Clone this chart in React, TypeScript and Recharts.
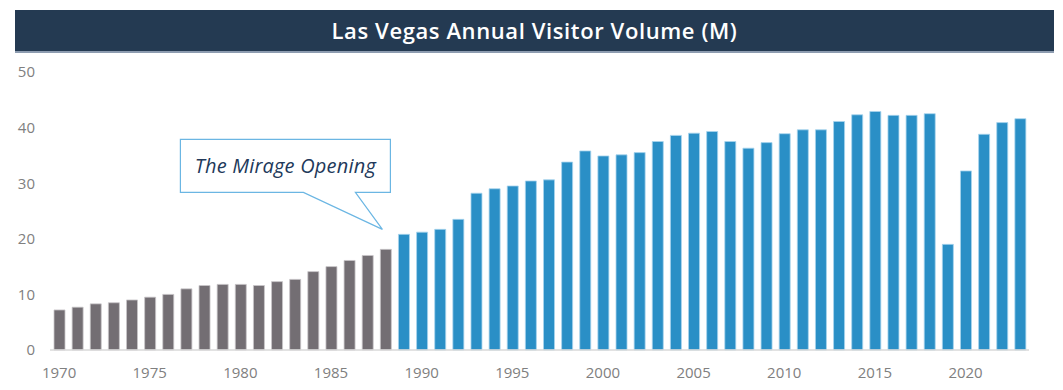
import { BarChart, Bar, XAxis, YAxis, Cell, ReferenceDot } from 'recharts';

const years = [
  1970, 1971, 1972, 1973, 1974, 1975, 1976, 1977, 1978, 1979,
  1980, 1981, 1982, 1983, 1984, 1985, 1986, 1987, 1988, 1989,
  1990, 1991, 1992, 1993, 1994, 1995, 1996, 1997, 1998, 1999,
  2000, 2001, 2002, 2003, 2004, 2005, 2006, 2007, 2008, 2009,
  2010, 2011, 2012, 2013, 2014, 2015, 2016, 2017, 2018, 2019,
  2020, 2021, 2022, 2023,
];

// visitors in millions
const visitors = [
  7.2, 7.7, 8.3, 8.5, 9.0, 9.5, 10.0, 11.0, 11.6, 11.8,
  11.8, 11.6, 12.3, 12.7, 14.1, 15.0, 16.1, 17.0, 18.1, 20.8,
  21.2, 21.7, 23.5, 28.2, 29.0, 29.5, 30.4, 30.6, 33.8, 35.8,
  34.9, 35.1, 35.5, 37.5, 38.6, 39.0, 39.3, 37.5, 36.3, 37.3,
  38.9, 39.6, 39.6, 41.1, 42.3, 42.9, 42.2, 42.2, 42.5, 19.0,
  32.2, 38.8, 40.9, 41.6,
];

const yTicks = [0, 10, 20, 30, 40, 50];
const mirageYear = 1988;

const data = years.map((year, i) => ({ year, visitors: visitors[i] }));

const GREY = '#736e73';
const BLUE = '#2a8fc6';
const NAVY = '#243a52';
const TICK = { fill: '#808080', fontSize: 15, fontFamily: '"Open Sans", sans-serif' };

function Callout({ cx, cy }: { cx?: number; cy?: number }) {
  if (cx == null || cy == null) return null;
  const left = cx - 205;
  const right = cx + 5;
  const top = cy - 110;
  const bottom = cy - 57;
  const tipX = cx - 3;
  const tipY = cy - 20;
  const d = `M${left},${top} H${right} V${bottom} H${cx - 30} L${tipX},${tipY} L${cx - 82},${bottom} H${left} Z`;
  return (
    <g>
      <path d={d} fill="#fff" stroke="#6bb6e3" strokeWidth={1.2} />
      <text
        x={cx - 100}
        y={cy - 84}
        textAnchor="middle"
        dominantBaseline="central"
        fill="#22395a"
        fontSize={20}
        letterSpacing={0.2}
        fontStyle="italic"
        fontFamily='"Open Sans", sans-serif'
      >
        The Mirage Opening
      </text>
    </g>
  );
}

export default function App() {
  return (
    <div style={{ position: 'absolute', left: 0, top: 0, width: 1063, height: 390, background: '#fff' }}>
      <div
        style={{
          position: 'absolute',
          left: 15,
          top: 10,
          width: 1039,
          height: 41,
          background: NAVY,
          borderBottom: '2px solid #8d9cb0',
          color: '#fff',
          fontFamily: '"Open Sans", sans-serif',
          fontWeight: 600,
          fontSize: 22,
          letterSpacing: 0.6,
          lineHeight: '41px',
          textAlign: 'center',
        }}
      >
        Las Vegas Annual Visitor Volume (M)
      </div>
      <BarChart
        width={1063}
        height={390}
        data={data}
        margin={{ top: 72, right: 34, bottom: 10, left: 0 }}
        style={{ position: 'absolute', left: 0, top: 0 }}
      >
        <XAxis
          dataKey="year"
          height={30}
          interval={4}
          tickLine={false}
          tickSize={6}
          tickMargin={11}
          axisLine={{ stroke: '#d9d9d9', strokeWidth: 1.5 }}
          tick={TICK}
        />
        <YAxis
          width={50}
          domain={[0, 50]}
          ticks={yTicks}
          axisLine={false}
          tickLine={false}
          tickSize={6}
          tickMargin={9}
          tick={TICK}
        />
        <Bar dataKey="visitors" barSize={11} isAnimationActive={false}>
          {data.map((d) => (
            <Cell
              key={d.year}
              fill={d.year <= mirageYear ? GREY : BLUE}
              stroke={d.year <= mirageYear ? '#c9c6c9' : '#a8d4ee'}
              strokeWidth={0.8}
            />
          ))}
        </Bar>
        <ReferenceDot
          x={mirageYear}
          y={visitors[years.indexOf(mirageYear)]}
          ifOverflow="visible"
          shape={(p: any) => <Callout cx={p.cx} cy={p.cy} />}
        />
      </BarChart>
    </div>
  );
}
